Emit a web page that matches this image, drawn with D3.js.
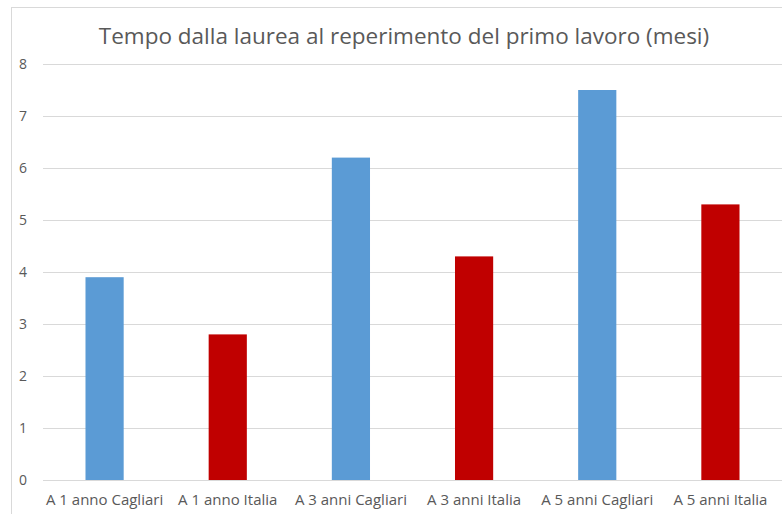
<!DOCTYPE html>
<html>
<head>
<meta charset="utf-8">
<script src="https://cdn.jsdelivr.net/npm/d3@7"></script>
<style>
  body { margin: 0; background: #fff; }
  text { font-family: "Open Sans", "Noto Sans", sans-serif; fill: #595959; }
</style>
</head>
<body>
<div id="chart"></div>
<script>
// data
var categories = ["A 1 anno Cagliari", "A 1 anno Italia", "A 3 anni Cagliari", "A 3 anni Italia", "A 5 anni Cagliari", "A 5 anni Italia"];
var values = [3.9, 2.8, 6.2, 4.3, 7.5, 5.3];
var barColors = ["#5b9bd5", "#c00000", "#5b9bd5", "#c00000", "#5b9bd5", "#c00000"];
var yTicks = [0, 1, 2, 3, 4, 5, 6, 7, 8];
var title = "Tempo dalla laurea al reperimento del primo lavoro (mesi)";

var W = 782, H = 514;
var margin = { top: 64, right: 0, bottom: 34, left: 43 };

var svg = d3.select("#chart").append("svg")
  .attr("width", W)
  .attr("height", H);

// chart frame (left and top edges visible)
svg.append("rect")
  .attr("x", 11.5).attr("y", 7.5)
  .attr("width", W + 20).attr("height", H + 20)
  .attr("fill", "none")
  .attr("stroke", "#d9d9d9");

var x = d3.scaleBand()
  .domain(categories)
  .range([margin.left, W - margin.right])
  .paddingInner(0.69)
  .paddingOuter(0.345);

var y = d3.scaleLinear()
  .domain([0, 8])
  .range([H - margin.bottom, margin.top]);

// gridlines
svg.append("g")
  .selectAll("line")
  .data(yTicks)
  .join("line")
  .attr("x1", margin.left)
  .attr("x2", W)
  .attr("y1", function (d) { return Math.round(y(d)) + 0.5; })
  .attr("y2", function (d) { return Math.round(y(d)) + 0.5; })
  .attr("stroke", "#d9d9d9")
  .attr("stroke-width", 1);

// y labels
svg.append("g")
  .selectAll("text")
  .data(yTicks)
  .join("text")
  .attr("x", 27)
  .attr("y", function (d) { return y(d); })
  .attr("dy", "0.36em")
  .attr("text-anchor", "end")
  .style("font-size", "14px")
  .text(function (d) { return d; });

// x labels
svg.append("g")
  .selectAll("text")
  .data(categories)
  .join("text")
  .attr("x", function (d) { return x(d) + x.bandwidth() / 2; })
  .attr("y", 505)
  .attr("text-anchor", "middle")
  .style("font-size", "15px")
  .text(function (d) { return d; });

// bars
svg.append("g")
  .selectAll("rect")
  .data(values)
  .join("rect")
  .attr("x", function (d, i) { return x(categories[i]); })
  .attr("width", x.bandwidth())
  .attr("y", function (d) { return y(d); })
  .attr("height", function (d) { return y(0) - y(d); })
  .attr("fill", function (d, i) { return barColors[i]; });

// title
svg.append("text")
  .attr("x", 404)
  .attr("y", 44)
  .attr("text-anchor", "middle")
  .style("font-size", "22.5px")
  .text(title);
</script>
</body>
</html>
